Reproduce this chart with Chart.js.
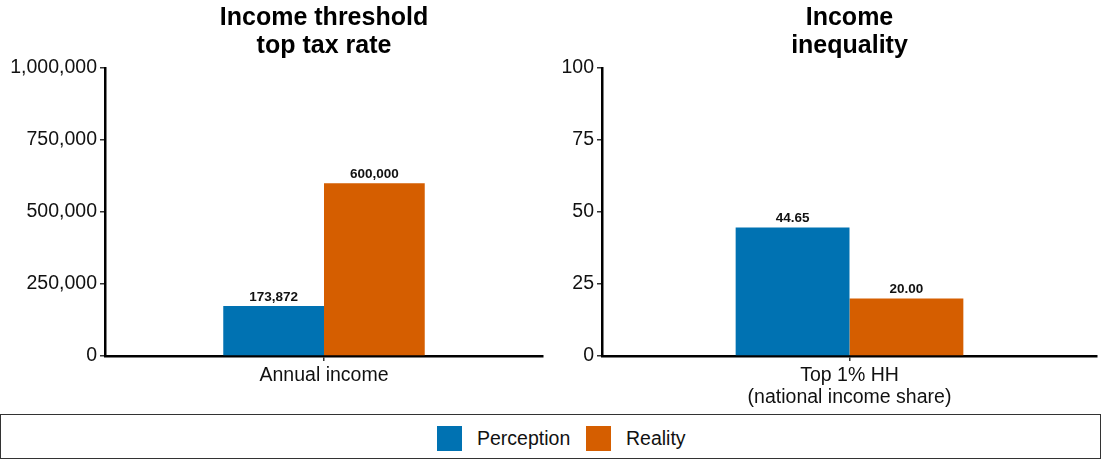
<!DOCTYPE html>
<html>
<head>
<meta charset="utf-8">
<script src="https://cdn.jsdelivr.net/npm/chart.js@4.4.0/dist/chart.umd.min.js"></script>
<style>
  body { margin: 0; background: #fff; width: 1101px; height: 459px; overflow: hidden; position: relative; font-family: "Liberation Sans", Arial, sans-serif; }
  .panel { position: absolute; top: 0; }
  #legend { position: absolute; left: 0; top: 414px; width: 1101px; height: 45px; box-sizing: border-box; border: 1.5px solid #333; }
  .item { position: absolute; top: 11px; height: 25px; display: flex; align-items: center; font-size: 19.5px; color: #111; }
  .sw { width: 25px; height: 25px; margin-right: 15px; }
</style>
</head>
<body>
<div class="panel" style="left:0"><canvas id="left" width="550" height="410"></canvas></div>
<div class="panel" style="left:550px"><canvas id="right" width="551" height="410"></canvas></div>
<div id="legend">
  <div class="item" style="left:436px"><div class="sw" style="background:#0072B2"></div>Perception</div>
  <div class="item" style="left:585px"><div class="sw" style="background:#D55E00"></div>Reality</div>
</div>
<script>
// values
const seriesNames = ['Perception', 'Reality'];
const seriesColors = ['#0072B2', '#D55E00'];
const panelTitles = [['Income threshold', 'top tax rate'], ['Income', 'inequality']];
const categories = [['Annual income'], [['Top 1% HH', '(national income share)']]];
const perception = [173872, 44.65];
const reality = [600000, 20.00];
const yMax = [1000000, 100];
const yStep = [250000, 25];

const fmtAxis = [(v) => v.toLocaleString('en-US'), (v) => String(v)];
const fmtLabel = [(v) => v.toLocaleString('en-US'), (v) => v.toFixed(2)];

const FONT = '"Liberation Sans", Arial, sans-serif';

const titlePlugin = {
  id: 'panelTitle',
  afterDraw(chart, args, opts) {
    const { ctx, chartArea } = chart;
    const cx = (chartArea.left + chartArea.right) / 2;
    ctx.save();
    ctx.font = `bold 25px ${FONT}`;
    ctx.fillStyle = '#000';
    ctx.textAlign = 'center';
    ctx.textBaseline = 'alphabetic';
    opts.lines.forEach((line, i) => ctx.fillText(line, cx, 25 + i * 28));
    ctx.restore();
  },
};

const valueLabels = {
  id: 'valueLabels',
  afterDatasetsDraw(chart, args, opts) {
    const { ctx } = chart;
    ctx.save();
    ctx.font = `bold 13.5px ${FONT}`;
    ctx.fillStyle = '#111';
    ctx.textAlign = 'center';
    ctx.textBaseline = 'alphabetic';
    chart.data.datasets.forEach((ds, i) => {
      chart.getDatasetMeta(i).data.forEach((bar, j) => {
        ctx.fillText(opts.format(ds.data[j]), bar.x, bar.y - 5);
      });
    });
    ctx.restore();
  },
};

function makePanel(id, idx, axisWidth, padRight) {
  const values = [perception[idx], reality[idx]];
  new Chart(document.getElementById(id), {
    type: 'bar',
    data: {
      labels: categories[idx],
      datasets: seriesNames.map((name, i) => ({
        label: name,
        data: [values[i]],
        backgroundColor: seriesColors[i],
        borderWidth: 0,
        categoryPercentage: 0.46,
        barPercentage: 1,
      })),
    },
    options: {
      responsive: false,
      animation: false,
      layout: { padding: { top: 68, right: padRight, bottom: 0, left: 0 } },
      plugins: {
        legend: { display: false },
        title: { display: false },
        tooltip: { enabled: false },
        panelTitle: { lines: panelTitles[idx] },
        valueLabels: { format: fmtLabel[idx] },
      },
      scales: {
        x: {
          grid: { display: true, drawOnChartArea: false, offset: false, tickLength: 5, color: '#333', lineWidth: 1.5 },
          border: { display: true, color: '#000', width: 2.5 },
          ticks: { color: '#111', padding: 3, font: { family: FONT, size: 19.5, lineHeight: 1.15 } },
          afterFit: (s) => { s.height = 54; },
        },
        y: {
          min: 0,
          max: yMax[idx],
          grid: { display: true, drawOnChartArea: false, tickLength: 5, color: '#333', lineWidth: 1.5 },
          border: { display: true, color: '#000', width: 2.5 },
          ticks: {
            stepSize: yStep[idx],
            color: '#111',
            padding: 3,
            font: { family: FONT, size: 19.5 },
            callback: (v) => fmtAxis[idx](v),
          },
          afterFit: (s) => { s.width = axisWidth; },
        },
      },
    },
    plugins: [titlePlugin, valueLabels],
  });
}

makePanel('left', 0, 105, 7);
makePanel('right', 1, 52, 4);
</script>
</body>
</html>
